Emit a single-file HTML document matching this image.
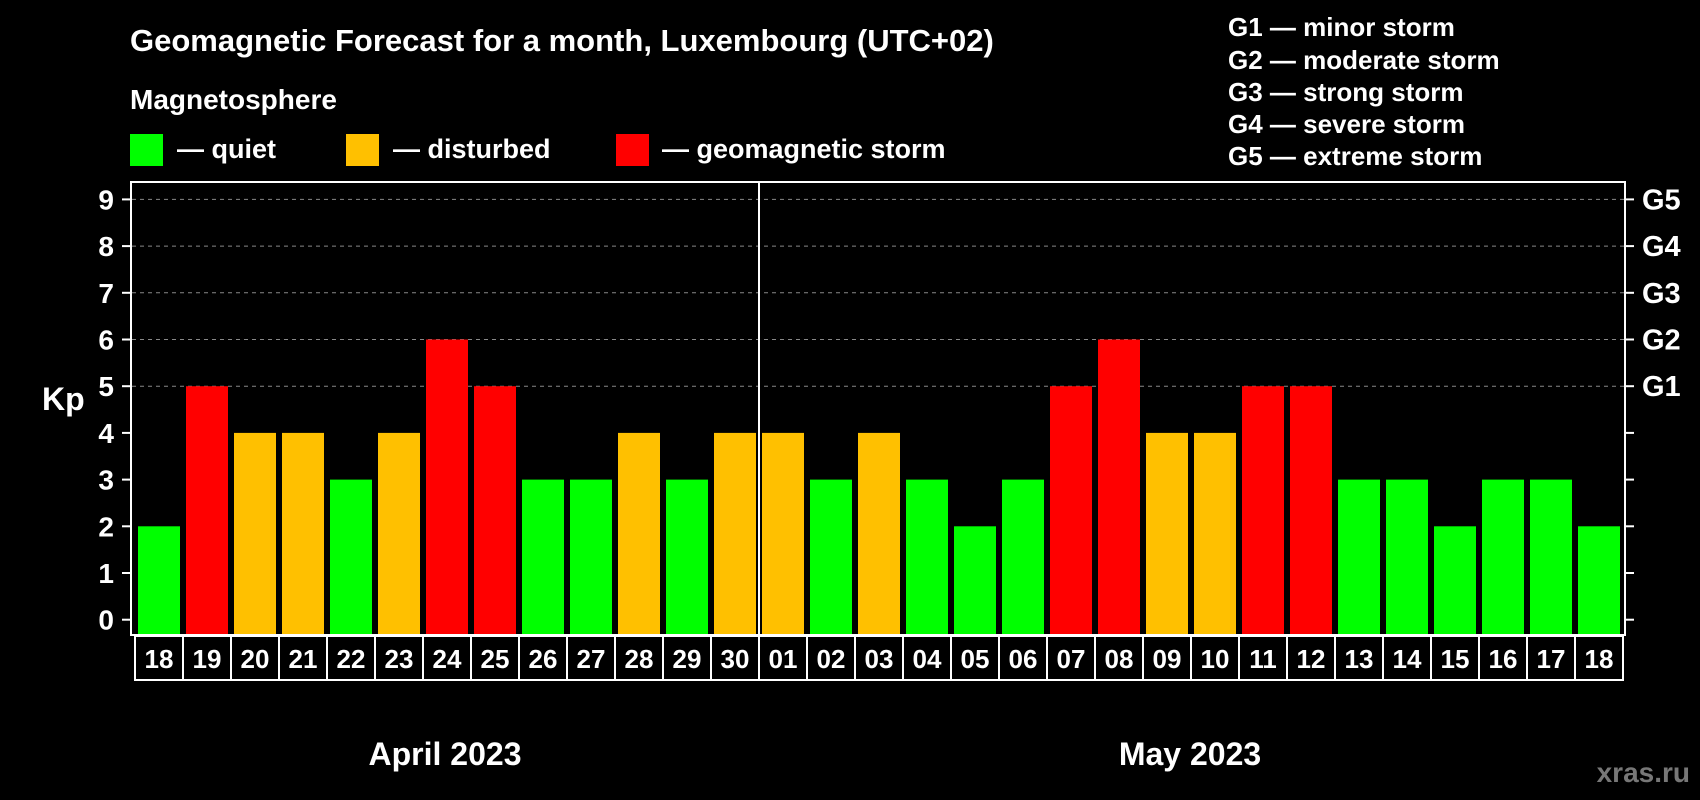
<!DOCTYPE html>
<html><head><meta charset="utf-8"><style>
html,body{margin:0;padding:0;background:#000;}
svg{display:block;font-family:"Liberation Sans",Arial,sans-serif;font-weight:bold;}
</style></head><body>
<svg id="chart" width="1700" height="800" viewBox="0 0 1700 800">
<text x="130" y="51" fill="#fff" font-size="31">Geomagnetic Forecast for a month, Luxembourg (UTC+02)</text>
<text x="130" y="109" fill="#fff" font-size="28">Magnetosphere</text>
<rect x="130" y="134" width="33" height="32" fill="#00ff00"/>
<text x="177" y="158" fill="#fff" font-size="27">— quiet</text>
<rect x="346" y="134" width="33" height="32" fill="#ffc000"/>
<text x="393" y="158" fill="#fff" font-size="27">— disturbed</text>
<rect x="616" y="134" width="33" height="32" fill="#ff0000"/>
<text x="662" y="158" fill="#fff" font-size="27">— geomagnetic storm</text>
<g fill="#fff" font-size="26">
<text x="1228" y="36">G1 — minor storm</text>
<text x="1228" y="69">G2 — moderate storm</text>
<text x="1228" y="101">G3 — strong storm</text>
<text x="1228" y="133">G4 — severe storm</text>
<text x="1228" y="165">G5 — extreme storm</text>
</g>
<text x="42" y="410" fill="#fff" font-size="32">Kp</text>
<g id="grid"></g>
<g id="bars"></g>
<g id="labels"></g>
<rect x="131" y="182" width="1494" height="453" fill="none" stroke="#fff" stroke-width="2"/>
<line x1="759" y1="182" x2="759" y2="635" stroke="#fff" stroke-width="2"/>
<text x="445" y="765" fill="#fff" font-size="32" text-anchor="middle">April 2023</text>
<text x="1190" y="765" fill="#fff" font-size="32" text-anchor="middle">May 2023</text>
<text x="1690" y="782" fill="#777" font-size="28" text-anchor="end">xras.ru</text>
</svg>
<script>
const days = ["18","19","20","21","22","23","24","25","26","27","28","29","30","01","02","03","04","05","06","07","08","09","10","11","12","13","14","15","16","17","18"];
const kpValues = [2,5,4,4,3,4,6,5,3,3,4,3,4,4,3,4,3,2,3,5,6,4,4,5,5,3,3,2,3,3,2];
const yTicks = ["0","1","2","3","4","5","6","7","8","9"];
const gLabels = ["G1","G2","G3","G4","G5"];
const NS="http://www.w3.org/2000/svg";
const y0=619.7, unit=46.7;
function yScale(v){return y0-v*unit;}
function xScale(i){return 138+i*48;}
function mk(tag,attrs,parent){const e=document.createElementNS(NS,tag);for(const k in attrs)e.setAttribute(k,attrs[k]);parent.appendChild(e);return e;}
const grid=document.getElementById('grid'),bars=document.getElementById('bars'),labels=document.getElementById('labels');
yTicks.forEach((t,i)=>{
  const y=yScale(+t);
  const tl=mk('line',{x1:122,x2:131,y1:y,y2:y,stroke:'#fff','stroke-width':2},grid);
  
  
  const tr=mk('line',{x1:1625,x2:1634,y1:y,y2:y,stroke:'#fff','stroke-width':2},grid);
  
  
  const tx=mk('text',{x:114,y:y+10,fill:'#fff','font-size':28,'text-anchor':'end'},grid);
  tx.textContent=t;
  
  
  if(+t>=5){
    const gl=mk('line',{x1:132,x2:1624,y1:y,y2:y,stroke:'#888','stroke-width':1,'stroke-dasharray':'4,4'},grid);
    
    
    const g=mk('text',{x:1642,y:y+10,fill:'#fff','font-size':29},grid);
    g.textContent=gLabels[+t-5];
    
    
  }
});
kpValues.forEach((v,i)=>{
  const col=v>=5?'#ff0000':(v>=4?'#ffc000':'#00ff00');
  const r=mk('rect',{x:xScale(i),y:yScale(v),width:42,height:635-yScale(v),fill:col},bars);
  
  
  const b=mk('rect',{x:xScale(i)-3,y:636,width:48,height:44,fill:'none',stroke:'#fff','stroke-width':2},labels);
  
  
  const t=mk('text',{x:xScale(i)+21,y:668,fill:'#fff','font-size':26,'text-anchor':'middle'},labels);
  t.textContent=days[i];
  
  
});
</script>
</body></html>
